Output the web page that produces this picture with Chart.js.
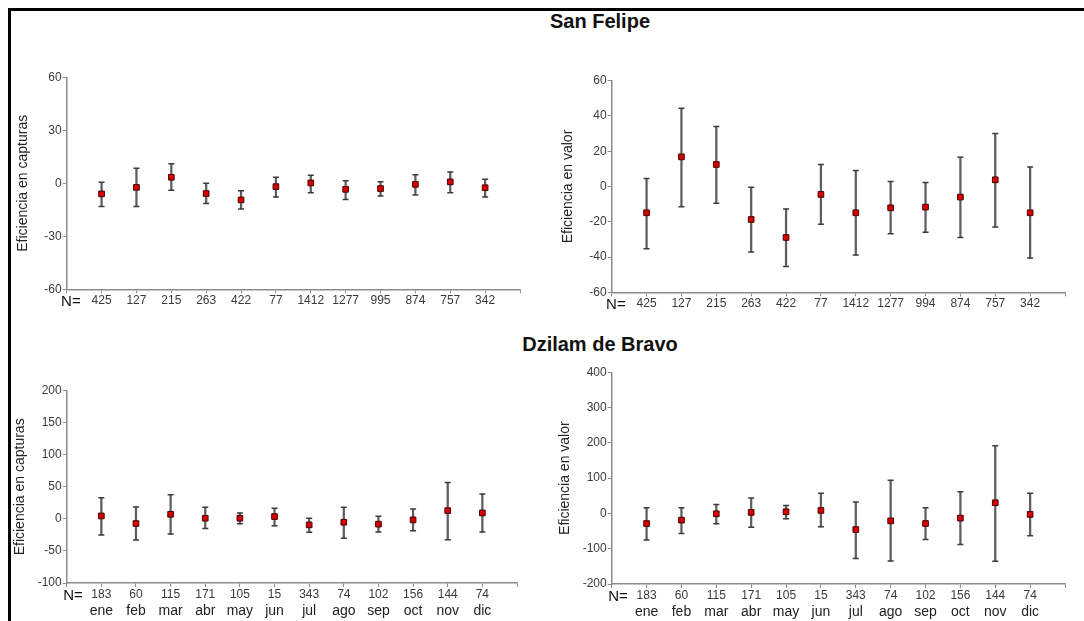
<!DOCTYPE html>
<html>
<head>
<meta charset="utf-8">
<script src="https://cdn.jsdelivr.net/npm/chart.js@4.4.1/dist/chart.umd.min.js"></script>
<style>
  html, body { margin: 0; padding: 0; background: #fff; width: 1084px; height: 621px; overflow: hidden; }
  #frame { position: absolute; left: 8px; top: 8px; right: 0; bottom: -10px; border-top: 3px solid #000; border-left: 3px solid #000; }
  .ttl { position: absolute; left: 450px; width: 300px; text-align: center; font: bold 20px "Liberation Sans", Arial, sans-serif; color: #111; line-height: 24px; }
  canvas { position: absolute; }
</style>
</head>
<body>
<div id="frame"></div>
<div class="ttl" style="top:9px">San Felipe</div>
<div class="ttl" style="top:332px">Dzilam de Bravo</div>
<canvas id="c1" width="530" height="260" style="left:12px;top:60px"></canvas>
<canvas id="c2" width="525" height="262" style="left:557px;top:60px"></canvas>
<canvas id="c3" width="530" height="251" style="left:12px;top:370px"></canvas>
<canvas id="c4" width="525" height="266" style="left:557px;top:355px"></canvas>
<script>
// ---- Data ----
const sfNCapturas = [425, 127, 215, 263, 422, 77, 1412, 1277, 995, 874, 757, 342];
const sfNValor    = [425, 127, 215, 263, 422, 77, 1412, 1277, 994, 874, 757, 342];
const dbN         = [183, 60, 115, 171, 105, 15, 343, 74, 102, 156, 144, 74];
const months      = ['ene', 'feb', 'mar', 'abr', 'may', 'jun', 'jul', 'ago', 'sep', 'oct', 'nov', 'dic'];

const sfCapMean = [-6.0, -2.3, 3.4, -5.8, -9.4, -1.9, 0.2, -3.4, -3.0, -0.6, 0.8, -2.5];
const sfCapHigh = [0.6, 8.5, 11.1, 0.0, -4.2, 3.4, 4.5, 1.5, 0.9, 4.9, 6.4, 2.3];
const sfCapLow  = [-13.2, -13.2, -4.0, -11.5, -14.5, -7.7, -5.3, -9.1, -7.2, -6.6, -5.3, -7.7];

const sfValMean = [-14.9, 16.8, 12.5, -18.7, -28.9, -4.5, -14.9, -12.1, -11.7, -6.0, 3.8, -14.9];
const sfValHigh = [4.5, 44.4, 34.0, -0.4, -12.7, 12.5, 9.1, 2.8, 2.3, 16.6, 30.1, 11.0];
const sfValLow  = [-35.3, -11.5, -9.5, -37.1, -45.4, -21.4, -38.8, -26.8, -25.9, -28.9, -22.9, -40.6];

const dbCapMean = [4.6, -7.2, 7.2, 1.0, 1.0, 3.6, -9.3, -5.2, -8.2, -1.5, 12.9, 9.3];
const dbCapHigh = [33, 18.6, 37.6, 18, 9.3, 16.5, 1, 18, 4, 15.5, 56.7, 39];
const dbCapLow  = [-25, -33, -23.7, -15, -7.7, -10.8, -21, -30, -20.6, -18.6, -32.5, -20.6];

const dbValMean = [-28.5, -19, -1, 2.8, 4.7, 8.5, -45.6, -21, -28.5, -13.3, 30.4, -2.8];
const dbValHigh = [16, 16, 25.6, 43.7, 22.8, 57, 32.3, 94, 16, 61.7, 191.8, 57];
const dbValLow  = [-75, -57, -29.4, -39, -15.2, -38, -128, -135, -74, -88.3, -135.8, -63];

// ---- Chart building ----
const FAMILY = '"Liberation Sans", Arial, sans-serif';
Chart.defaults.font.family = FAMILY;
const pad = a => [null, ...a, null];

function buildChart(id, nLabels, monthLabels, mean, low, high, yMin, yMax, yStep, yTitle, lay) {
  const scales = {
    x: {
      type: 'category',
      labels: [lay.nPrefix + 'N=', ...nLabels.map(String), ''],
      offset: false,
      grid: { display: true, drawOnChartArea: false, offset: false, tickLength: 4, color: '#8c8c8c', lineWidth: 1 },
      border: { color: '#8c8c8c', width: 1.5 },
      ticks: {
        autoSkip: false, maxRotation: 0, minRotation: 0, padding: 0,
        color: ctx => ctx.index === 0 ? '#111' : '#3a3a3a',
        font: ctx => ({ family: FAMILY, size: ctx.index === 0 ? 15 : 12 })
      },
      afterFit: s => { s.height = lay.xH; }
    },
    y: {
      min: yMin, max: yMax,
      ticks: { stepSize: yStep, padding: 1, color: '#3a3a3a', font: { size: 12 } },
      grid: { display: true, drawOnChartArea: false, tickLength: 4, color: '#8c8c8c', lineWidth: 1 },
      border: { color: '#8c8c8c', width: 1.5 },
      title: { display: true, text: yTitle, color: '#222', font: { size: 14 }, padding: { top: lay.tPad, bottom: 0 } },
      afterFit: s => { s.width = lay.yW; }
    }
  };
  if (monthLabels) {
    scales.x2 = {
      type: 'category', position: 'bottom',
      labels: ['', ...monthLabels, ''],
      offset: false,
      grid: { display: false, drawTicks: false },
      border: { display: false },
      ticks: { autoSkip: false, maxRotation: 0, padding: 0, color: '#222', font: { size: 14 } },
      afterFit: s => { s.height = lay.x2H; }
    };
  }
  return new Chart(document.getElementById(id), {
    type: 'bar',
    data: {
      datasets: [
        { type: 'line', data: pad(mean), showLine: false, pointStyle: 'rect', pointRadius: 4,
          backgroundColor: '#d60000', borderColor: '#4a0000', borderWidth: 1, order: 1 },
        { type: 'line', data: pad(high), showLine: false, pointStyle: 'line', pointRadius: 3,
          borderColor: '#3c3c3c', borderWidth: 1.5, order: 2 },
        { type: 'line', data: pad(low), showLine: false, pointStyle: 'line', pointRadius: 3,
          borderColor: '#3c3c3c', borderWidth: 1.5, order: 2 },
        { type: 'bar', data: pad(low.map((l, i) => [l, high[i]])), backgroundColor: '#5e5e5e',
          borderWidth: 0, barThickness: 1.6, order: 3 }
      ]
    },
    options: {
      responsive: false, animation: false,
      layout: { padding: { top: lay.top, right: lay.right, left: 0, bottom: 0 } },
      plugins: { legend: { display: false }, tooltip: { enabled: false } },
      scales
    }
  });
}

buildChart('c1', sfNCapturas, null, sfCapMean, sfCapLow, sfCapHigh, -60, 60, 30, 'Eficiencia en capturas',
  { yW: 54.7, top: 17.3, right: 22, xH: 30.7, tPad: 2.5, nPrefix: '\u00a0\u00a0' });
buildChart('c2', sfNValor, null, sfValMean, sfValLow, sfValHigh, -60, 60, 20, 'Eficiencia en valor',
  { yW: 54.7, top: 20.7, right: 17, xH: 29.7, tPad: 2.5, nPrefix: '\u00a0\u00a0' });
buildChart('c3', dbN, months, dbCapMean, dbCapLow, dbCapHigh, -100, 200, 50, 'Eficiencia en capturas',
  { yW: 54.7, top: 20.7, right: 25, xH: 20, x2H: 18, tPad: 0, nPrefix: '\u00a0\u00a0\u00a0' });
buildChart('c4', dbN, months, dbValMean, dbValLow, dbValHigh, -200, 400, 100, 'Eficiencia en valor',
  { yW: 54.7, top: 17.3, right: 17, xH: 20, x2H: 17, tPad: 0, nPrefix: '\u00a0\u00a0\u00a0' });
</script>
</body>
</html>
